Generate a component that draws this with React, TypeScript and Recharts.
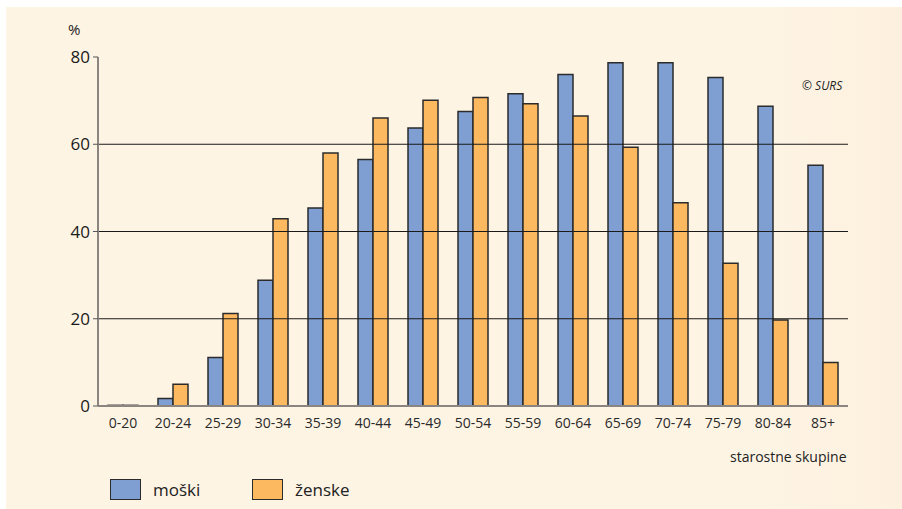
import React from "react";
import { BarChart, Bar, XAxis, YAxis, ReferenceLine } from "recharts";

const categories = ["0-20", "20-24", "25-29", "30-34", "35-39", "40-44", "45-49", "50-54", "55-59", "60-64", "65-69", "70-74", "75-79", "80-84", "85+"];
const moski = [0.15, 1.7, 11.1, 28.8, 45.4, 56.5, 63.7, 67.5, 71.6, 76.0, 78.7, 78.7, 75.3, 68.7, 55.2];
const zenske = [0.15, 5.0, 21.2, 42.9, 58.0, 66.0, 70.1, 70.7, 69.3, 66.5, 59.3, 46.6, 32.7, 19.7, 10.0];
const yTicks = [0, 20, 40, 60, 80];
const gridValues = [20, 40, 60];

const BLUE = "#7f9fd3";
const ORANGE = "#fdb960";
const STROKE = "#2b2b2b";
const FONT = "'Open Sans', 'Noto Sans', sans-serif";

const data = categories.map((c, i) => ({ cat: c, moski: moski[i], zenske: zenske[i] }));

export default function App() {
  return (
    <div style={{ position: "fixed", left: 0, top: 0, right: 0, bottom: 0, background: "#ffffff", fontFamily: FONT }}>
      <div style={{ position: "absolute", left: 6, top: 7, right: 0, bottom: 0, background: "linear-gradient(90deg, #fef4e4 0%, #fef4e4 85%, #fdf0de 100%)" }} />
      <div style={{ position: "absolute", left: 0, top: 0 }}>
        <BarChart
          width={902}
          height={509}
          data={data}
          margin={{ top: 57, right: 54, bottom: 73, left: 58 }}
          barCategoryGap="20%"
          barGap={0}
        >
          <XAxis
            dataKey="cat"
            height={30}
            axisLine={{ stroke: "#8a8580", strokeWidth: 2 }}
            tickLine={false}
            tick={{ fill: "#2a2a2a", fontSize: 14, fontFamily: FONT }}
            tickMargin={6}
            interval={0}
          />
          <YAxis
            width={40}
            domain={[0, 80]}
            ticks={yTicks}
            axisLine={{ stroke: "#8a8580", strokeWidth: 2 }}
            tickLine={{ stroke: "#555", strokeWidth: 1 }}
            tickSize={5}
            tickMargin={3}
            tick={{ fill: "#1a1a1a", fontSize: 17, fontFamily: FONT }}
          />
          {gridValues.map((v) => (
            <ReferenceLine key={v} y={v} stroke="#1a1a1a" strokeWidth={1} />
          ))}
          <Bar dataKey="moski" fill={BLUE} stroke={STROKE} strokeWidth={1.5} isAnimationActive={false} />
          <Bar dataKey="zenske" fill={ORANGE} stroke={STROKE} strokeWidth={1.5} isAnimationActive={false} />
        </BarChart>
      </div>
      <div style={{ position: "absolute", left: 68, top: 19, fontSize: 15, color: "#222" }}>%</div>
      <div style={{ position: "absolute", left: 802, top: 77, fontSize: 12, fontStyle: "italic", color: "#222" }}>© SURS</div>
      <div style={{ position: "absolute", left: 730, top: 447, fontSize: 14, color: "#222" }}>starostne skupine</div>
      <div style={{ position: "absolute", left: 110, top: 479, width: 31, height: 21, background: BLUE, border: `1.5px solid ${STROKE}`, boxSizing: "border-box" }} />
      <div style={{ position: "absolute", left: 153, top: 478, fontSize: 17, color: "#222" }}>moški</div>
      <div style={{ position: "absolute", left: 252, top: 479, width: 31, height: 21, background: ORANGE, border: `1.5px solid ${STROKE}`, boxSizing: "border-box" }} />
      <div style={{ position: "absolute", left: 295, top: 478, fontSize: 17, color: "#222" }}>ženske</div>
    </div>
  );
}
